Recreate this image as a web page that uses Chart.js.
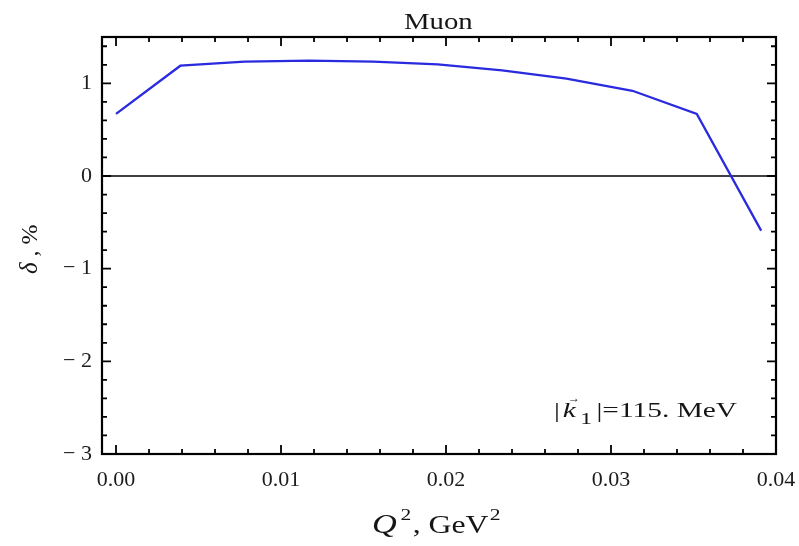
<!DOCTYPE html>
<html>
<head>
<meta charset="utf-8">
<script src="https://cdn.jsdelivr.net/npm/chart.js@4.4.1/dist/chart.umd.min.js"></script>
<style>
  html, body { margin: 0; padding: 0; background: #fff; }
  #wrap { width: 799px; height: 546px; position: relative; }
</style>
</head>
<body>
<div id="wrap"><canvas id="chart" width="799" height="546"></canvas></div>
<script>
// data
const q2Values = [0.0000, 0.0039, 0.0078, 0.0117, 0.0156, 0.0195, 0.0234, 0.0273, 0.0313, 0.0352, 0.0391];
const deltaValues = [0.67, 1.19, 1.235, 1.245, 1.235, 1.205, 1.14, 1.05, 0.92, 0.67, -0.59];
const xTicks = [0, 0.01, 0.02, 0.03, 0.04];
const yTicks = [-3, -2, -1, 0, 1];
const yTickLabels = ['\u2212 3', '\u2212 2', '\u2212 1', '0', '1'];

const SERIF = '"Liberation Serif", "DejaVu Serif", serif';

// draws pieces of text one after another, stretched sideways like the source
function drawPieces(ctx, x, y, sx, pieces) {
    ctx.save();
    ctx.translate(x, y);
    ctx.scale(sx, 1);
    let cx = 0;
    for (const p of pieces) {
        ctx.font = p.font;
        ctx.fillText(p.text, cx, p.dy || 0);
        cx += ctx.measureText(p.text).width + (p.gap || 0);
    }
    ctx.restore();
}

// frame, inward ticks, zero line and text
const decorations = {
    id: 'decorations',
    beforeDatasetsDraw(chart) {
        const { ctx, chartArea: a, scales: { y } } = chart;
        ctx.save();
        ctx.strokeStyle = '#000';
        ctx.lineWidth = 1.6;
        ctx.beginPath();
        ctx.moveTo(a.left, y.getPixelForValue(0));
        ctx.lineTo(a.right, y.getPixelForValue(0));
        ctx.stroke();
        ctx.restore();
    },
    afterDraw(chart) {
        const { ctx, chartArea: a, scales: { x, y } } = chart;
        ctx.save();
        ctx.strokeStyle = '#000';
        ctx.lineWidth = 2.2;
        ctx.strokeRect(a.left, a.top, a.right - a.left, a.bottom - a.top);

        ctx.lineWidth = 1.8;
        ctx.beginPath();
        // x ticks every 0.002, major every 0.01
        for (let i = 0; i <= 20; i++) {
            const px = x.getPixelForValue(i * 0.002);
            const len = (i % 5 === 0) ? 9 : 5;
            ctx.moveTo(px, a.bottom); ctx.lineTo(px, a.bottom - len);
            ctx.moveTo(px, a.top); ctx.lineTo(px, a.top + len);
        }
        // y ticks every 0.2, major every 1
        for (let i = -15; i <= 7; i++) {
            const py = y.getPixelForValue(i * 0.2);
            const len = (i % 5 === 0) ? 9 : 5;
            ctx.moveTo(a.left, py); ctx.lineTo(a.left + len, py);
            ctx.moveTo(a.right, py); ctx.lineTo(a.right - len, py);
        }
        ctx.stroke();

        ctx.fillStyle = '#151515';
        ctx.textAlign = 'left';
        ctx.textBaseline = 'alphabetic';

        // title
        drawPieces(ctx, 404, 29, 1.25, [{ text: 'Muon', font: '23px ' + SERIF }]);

        // x axis title: Q^2, GeV^2
        drawPieces(ctx, 372, 533, 1.27, [
            { text: 'Q', font: 'italic 27px ' + SERIF, gap: 3 },
            { text: '2', font: '17px ' + SERIF, dy: -13, gap: 1 },
            { text: ', GeV', font: '25px ' + SERIF, gap: 1 },
            { text: '2', font: '17px ' + SERIF, dy: -13 }
        ]);

        // y axis title: delta, %
        ctx.save();
        ctx.translate(37, 274);
        ctx.rotate(-Math.PI / 2);
        drawPieces(ctx, 0, 0, 1, [
            { text: '\u03b4', font: 'italic 25px ' + SERIF },
            { text: ' , %', font: '24px ' + SERIF }
        ]);
        ctx.restore();

        // annotation |k1| = 115. MeV
        drawPieces(ctx, 554, 417, 1.47, [
            { text: '|', font: '20px ' + SERIF, gap: 2 },
            { text: 'k', font: 'italic 20px ' + SERIF, gap: 3 },
            { text: '1', font: '16px ' + SERIF, dy: 7, gap: 3 },
            { text: '|=115. MeV', font: '20px ' + SERIF }
        ]);
        // arrow over k
        ctx.font = '12px ' + SERIF;
        ctx.fillText('\u2192', 568, 402);
        ctx.restore();
    }
};

new Chart(document.getElementById('chart'), {
    type: 'line',
    data: {
        datasets: [{
            data: q2Values.map((q, i) => ({ x: q, y: deltaValues[i] })),
            borderColor: '#2a2ade',
            borderWidth: 2.3,
            pointRadius: 0,
            tension: 0,
            fill: false
        }]
    },
    options: {
        responsive: false,
        animation: false,
        events: [],
        layout: { padding: { left: 0, right: 23, top: 37, bottom: 0 } },
        plugins: { legend: { display: false }, tooltip: { enabled: false } },
        scales: {
            x: {
                type: 'linear',
                min: -0.00085,
                max: 0.04,
                grid: { display: false, drawTicks: false },
                border: { display: false },
                afterBuildTicks: s => { s.ticks = xTicks.map(v => ({ value: v })); },
                afterFit: s => { s.height = 92; s.paddingLeft = 0; s.paddingRight = 0; },
                ticks: {
                    padding: 13,
                    color: '#1c1c1c',
                    font: { family: SERIF, size: 22 },
                    maxRotation: 0,
                    callback: v => v.toFixed(2)
                }
            },
            y: {
                min: -3,
                max: 1.5,
                grid: { display: false, drawTicks: false },
                border: { display: false },
                afterBuildTicks: s => { s.ticks = yTicks.map(v => ({ value: v })); },
                afterFit: s => { s.width = 102; s.paddingTop = 0; s.paddingBottom = 0; },
                ticks: {
                    padding: 10,
                    color: '#1c1c1c',
                    font: { family: SERIF, size: 22 },
                    callback: v => yTickLabels[yTicks.indexOf(v)]
                }
            }
        }
    },
    plugins: [decorations]
});
</script>
</body>
</html>
